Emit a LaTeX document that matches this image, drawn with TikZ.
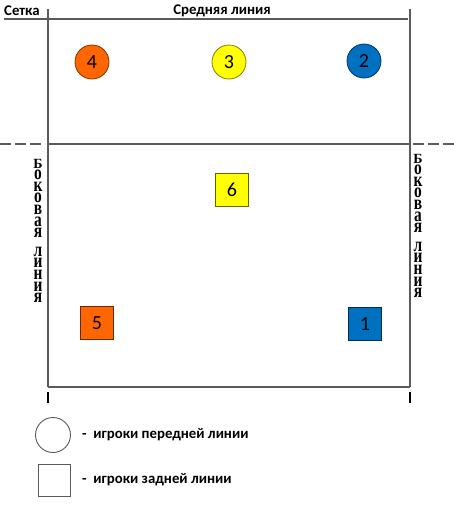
\documentclass[tikz,border=0pt]{standalone}
\usepackage{fontspec}
\setmainfont{Carlito}
\newfontfamily\sidefont{Liberation Serif}
\usepackage{graphicx}
\definecolor{lineg}{HTML}{5A5A5A}
\definecolor{porange}{HTML}{FF6600}
\definecolor{pyellow}{HTML}{FFFF00}
\definecolor{pblue}{HTML}{0070C0}
\begin{document}
\begin{tikzpicture}[x=1pt,y=-1pt,
  courtline/.style={draw=lineg,line width=1.3pt},
  extdash/.style={draw=lineg,line width=1.3pt,dash pattern=on 11pt off 4pt},
  player/.style={circle,minimum size=34pt,inner sep=0pt,line width=0.8pt,font=\fontsize{20}{20}\selectfont},
  backplayer/.style={rectangle,minimum size=33pt,inner sep=0pt,line width=0.8pt,font=\fontsize{20}{20}\selectfont},
  lbl/.style={font=\bfseries\fontsize{14.8}{14.8}\selectfont,inner sep=0pt},
  sidelet/.style={font=\sidefont\bfseries\fontsize{14}{14}\selectfont,inner sep=0pt,anchor=base}]
\useasboundingbox (0,0) rectangle (454,512);
% court lines
\coordinate (tl) at (4,19);
\coordinate (tr) at (408,19);
\draw[courtline] (tl) -- (tr);
\coordinate (lt) at (48,9);
\coordinate (lb) at (48,387);
\coordinate (rt) at (410,9);
\coordinate (rb) at (410,387);
\draw[courtline] (lt) -- (lb);
\draw[courtline] (rt) -- (rb);
\draw[courtline] (lb) -- (rb);
\coordinate (ml) at (48,144);
\coordinate (mr) at (410,144);
\draw[courtline] (ml) -- (mr);
\coordinate (el) at (0,144);
\coordinate (er) at (454,144);
\draw[extdash] (el) -- (45,144);
\draw[extdash] (413,144) -- (er);
\draw[line width=1.3pt] (48,392) -- (48,403);
\draw[line width=1.3pt] (410,392) -- (410,403);
% labels
\node[lbl,anchor=base west] (setka) at (4,15) {Сетка};
\node[lbl,anchor=base] (mid) at (222,14) {Средняя линия};
% side labels: stacked letters
\foreach \ch/\yy [count=\i] in {Б/0,о/11.6,к/23.2,о/34.8,в/46.4,а/58,я/69.6,л/88.2,и/99.8,н/111.4,и/123,я/134.6}{
  \ifnum\i=1
    \node[sidelet] (sl\i) at (38,168+\yy) {\ch};
    \node[sidelet] (sr\i) at (418,163+\yy) {\ch};
  \else
    \node[sidelet] (sl\i) at (38,168+\yy) {\scalebox{1.1}[1.45]{\ch}};
    \node[sidelet] (sr\i) at (418,163+\yy) {\scalebox{1.1}[1.45]{\ch}};
  \fi
}
% players
\node[player,fill=porange,draw=porange!50!black] (p4) at (92,62) {4};
\node[player,fill=pyellow,draw=pyellow!50!black] (p3) at (229,62) {3};
\node[player,fill=pblue,draw=pblue!50!black] (p2) at (364,61) {2};
\node[backplayer,fill=pyellow,draw=pyellow!40!black] (p6) at (232,190) {6};
\node[backplayer,fill=porange,draw=porange!40!black] (p5) at (97,323) {5};
\node[backplayer,fill=pblue,draw=pblue!40!black] (p1) at (365,324) {1};
% legend
\node[circle,draw=lineg,line width=0.9pt,minimum size=35pt,inner sep=0pt] (lc) at (53,435) {};
\node[rectangle,draw=lineg,line width=0.9pt,minimum size=32pt,inner sep=0pt] (ls) at (54,480) {};
\node[lbl,anchor=west] (lct) at (82,435) {-\ \ игроки передней линии};
\node[lbl,anchor=west] (lst) at (82,480) {-\ \ игроки задней линии};
\end{tikzpicture}
\end{document}
